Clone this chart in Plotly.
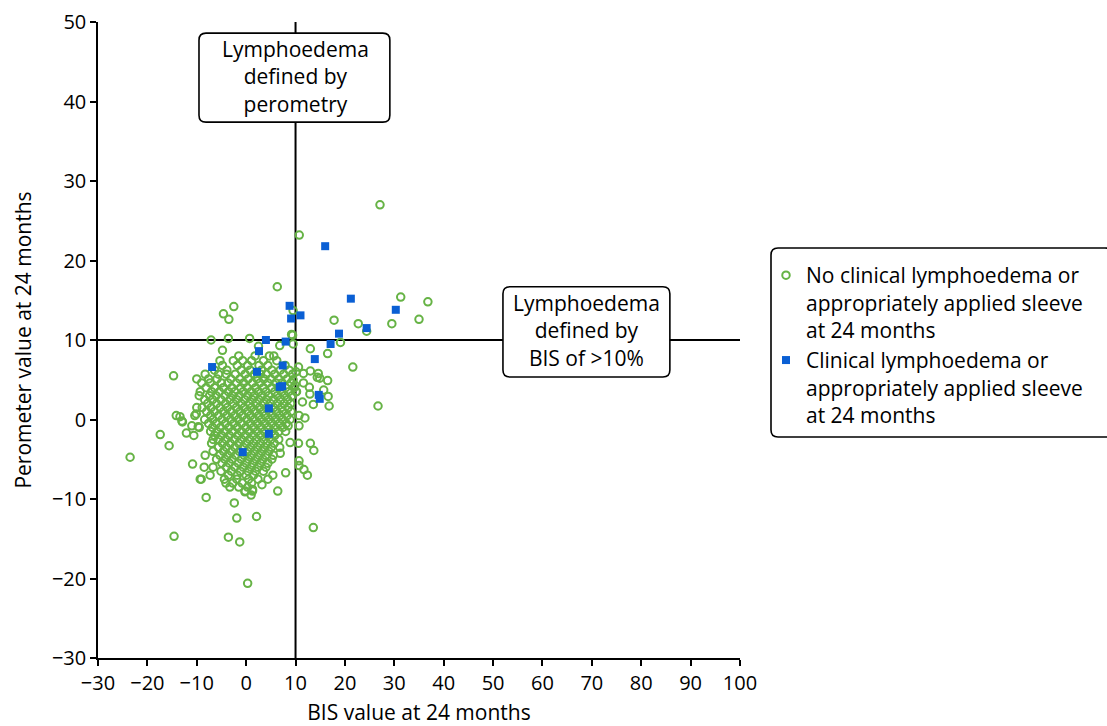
import plotly.graph_objects as go

# Outlying "no clinical lymphoedema" points (BIS %, perometer %)
no_lymph_outer = [
    (27.1, 27.0), (10.75, 23.2), (6.3, 16.7), (31.3, 15.4), (36.8, 14.8),
    (-2.5, 14.2), (-4.6, 13.3), (-3.5, 12.6), (9.5, 13.7), (17.8, 12.5),
    (22.7, 12.05), (29.5, 12.05), (35.0, 12.6), (24.4, 11.1), (9.2, 10.7),
    (-7.1, 10.0), (-3.6, 10.2), (0.7, 10.2), (9.5, 9.5), (6.8, 9.3),
    (19.1, 9.7), (2.5, 9.2), (13.0, 8.9), (16.5, 8.3), (4.7, 8.0),
    (-4.8, 8.7), (21.6, 6.6), (26.7, 1.7), (-14.7, 5.5), (10.6, 6.6),
    (10.1, 6.0), (11.6, 5.8), (13.0, 6.1), (14.6, 5.8), (14.9, 5.2),
    (16.5, 4.9), (14.4, 5.3), (12.8, 4.05), (12.9, 3.2), (15.7, 3.7),
    (16.6, 2.9), (16.8, 1.7), (13.6, 1.9), (11.4, 2.2), (11.9, 0.2),
    (10.7, 0.5), (10.7, -0.8), (10.6, -3.0), (13.0, -3.0), (13.7, -3.9),
    (10.7, -5.2), (10.7, -5.8), (11.7, -6.3), (12.4, -7.0), (8.0, -6.7),
    (6.4, -9.0), (3.2, -8.2), (13.6, -13.6), (-23.5, -4.75), (-17.4, -1.9),
    (-15.6, -3.3), (-14.15, 0.5), (-13.0, -0.2), (-12.1, -1.7), (-10.6, -2.0),
    (-11.0, -0.8), (-9.7, -0.9), (-10.1, 0.7), (-14.6, -14.7), (-8.1, -9.8),
    (-2.4, -10.5), (-1.9, -12.4), (2.1, -12.2), (-3.6, -14.8), (-1.3, -15.4),
    (0.3, -20.6), (-10.85, -5.6), (-9.1, -7.5), (1.0, -9.5), (1.3, -8.8),
    (-0.25, -9.1), (8.5, -0.8), (8.9, -2.9), (6.9, -4.25), (9.4, 10.6),
    (9.5, 5.0), (9.9, 4.3), (10.1, 3.5), (-13.4, 0.35), (-12.9, -0.3),
]

# Dense central cluster, listed row by row: (perometer %, [BIS % values])
no_lymph_core = [
    (8.0, [-1.5, 1.8, 5.6]),
    (7.4, [-5.3, -2.6, -0.7, 1.1, 3.5, 6.2]),
    (6.8, [-4.8, -1.8, 0.3, 2.6, 4.4, 7.9]),
    (6.2, [-6.4, -3.9, -1.0, 0.8, 3.1, 5.2, 6.9, 8.7]),
    (5.7, [-8.3, -5.6, -4.0, -2.2, -0.2, 1.7, 2.9, 4.1, 5.8, 7.6, 9.4]),
    (5.1, [-10.0, -7.6, -5.9, -3.1, -1.3, 0.4, 2.2, 3.6, 5.0, 6.6, 8.3]),
    (4.6, [-9.0, -7.3, -5.0, -3.7, -2.0, -0.5, 1.3, 2.8, 4.4, 6.0, 7.3, 9.1, 11.6]),
    (4.0, [-8.1, -6.4, -4.6, -2.9, -1.1, 0.2, 1.9, 3.5, 5.2, 6.6, 8.0, 9.7]),
    (3.5, [-9.3, -7.0, -5.4, -3.6, -2.3, -0.6, 1.0, 2.5, 4.0, 5.8, 7.2, 8.6, 10.2]),
    (3.0, [-9.5, -7.4, -6.1, -4.3, -2.8, -1.4, 0.3, 1.7, 3.2, 4.6, 6.3, 7.8, 9.3]),
    (2.5, [-8.4, -6.8, -5.1, -3.3, -1.9, -0.3, 1.2, 2.6, 4.1, 5.5, 7.0, 8.4]),
    (2.0, [-7.8, -6.0, -4.2, -2.6, -1.0, 0.6, 2.0, 3.5, 4.9, 6.3, 7.7, 9.0]),
    (1.5, [-10.0, -8.9, -7.1, -5.3, -3.8, -2.0, -0.4, 1.1, 2.7, 4.2, 5.6, 7.1, 8.5]),
    (1.0, [-8.0, -6.4, -4.6, -3.0, -1.3, 0.3, 1.8, 3.4, 4.8, 6.2, 7.5, 9.1]),
    (0.5, [-10.4, -7.2, -5.6, -3.9, -2.3, -0.7, 0.9, 2.5, 3.9, 5.3, 6.8, 8.3]),
    (0.0, [-8.4, -6.7, -4.9, -3.2, -1.6, 0.1, 1.6, 3.1, 4.6, 6.0, 7.4, 8.9]),
    (-0.5, [-7.6, -6.0, -4.2, -2.5, -0.9, 0.8, 2.3, 3.8, 5.2, 6.7, 8.1]),
    (-1.0, [-9.5, -6.8, -5.2, -3.5, -1.8, -0.1, 1.5, 3.0, 4.4, 5.9, 7.4]),
    (-1.5, [-7.2, -5.9, -4.3, -2.7, -1.0, 0.6, 2.2, 3.7, 5.2, 6.6, 8.0]),
    (-2.0, [-6.4, -5.0, -3.4, -1.7, -0.2, 1.4, 2.9, 4.4, 5.8]),
    (-2.5, [-6.7, -5.6, -4.1, -2.4, -0.9, 0.7, 2.1, 3.6, 5.0, 6.6]),
    (-3.0, [-7.0, -4.8, -3.2, -1.5, 0.0, 1.5, 2.9, 4.2, 5.7]),
    (-3.5, [-5.6, -4.0, -2.3, -0.6, 0.9, 2.3, 3.7, 5.1, 6.8]),
    (-4.0, [-6.7, -4.6, -3.0, -1.4, 0.3, 1.7, 3.2, 4.6]),
    (-4.5, [-8.3, -5.3, -3.7, -2.1, -0.4, 1.1, 2.6, 4.0, 5.5]),
    (-5.0, [-6.0, -4.3, -2.8, -1.0, 0.5, 2.0, 3.4, 5.2]),
    (-5.5, [-4.9, -3.4, -1.6, 0.0, 1.4, 2.9, 4.4]),
    (-6.0, [-8.5, -6.7, -4.0, -2.3, -0.6, 1.0, 2.4, 4.0]),
    (-6.5, [-5.1, -3.0, -1.2, 0.4, 1.9, 3.5]),
    (-7.0, [-7.3, -3.6, -1.8, 0.0, 1.5, 5.4]),
    (-7.5, [-9.3, -4.4, -1.9, 0.5, 2.4, 4.4]),
    (-8.0, [-4.1, -2.7, -0.8, 1.1]),
    (-8.5, [-3.3, -1.5, 0.3]),
    (-9.0, [-0.2, 1.3]),
]

# Clinical lymphoedema or appropriately applied sleeve
lymph_bis = [16.0, 21.2, 30.3, 8.8, 9.1, 11.0, 24.4, 18.8, 8.0, 17.1, 13.9, 7.4,
             6.8, 7.3, 14.7, 14.9, 4.0, 2.6, -6.9, 2.2, 4.6, 4.6, -0.7]
lymph_perometer = [21.8, 15.2, 13.8, 14.3, 12.7, 13.1, 11.5, 10.8, 9.8, 9.5, 7.6, 6.8,
                   4.1, 4.2, 3.1, 2.6, 10.0, 8.6, 6.6, 6.0, 1.4, -1.8, -4.1]

x_ticks = list(range(-30, 101, 10))
y_ticks = list(range(-30, 51, 10))
threshold = 10

GREEN = "#66b345"
BLUE = "#0a5fd4"
FONT = "Open Sans"
TEXT_SIZE = 21
TICK_SIZE = 20

no_lymph_bis = [p[0] for p in no_lymph_outer]
no_lymph_perometer = [p[1] for p in no_lymph_outer]
for yv, xs in no_lymph_core:
    for xv in xs:
        no_lymph_bis.append(xv)
        no_lymph_perometer.append(yv)

fig = go.Figure()
fig.add_trace(go.Scatter(
    x=no_lymph_bis, y=no_lymph_perometer, mode="markers",
    name="No clinical lymphoedema or<br>appropriately applied sleeve<br>at 24 months",
    marker=dict(symbol="circle-open", size=7.5, color=GREEN, line=dict(width=2, color=GREEN)),
))
fig.add_trace(go.Scatter(
    x=lymph_bis, y=lymph_perometer, mode="markers",
    name="Clinical lymphoedema or<br>appropriately applied sleeve<br>at 24 months",
    marker=dict(symbol="square", size=8, color=BLUE),
))

# plot-area geometry (pixels) used for rounded box corners
L, R, T, B = 98, 740, 22, 658
W, H = 1107, 726
px_per_x = (R - L) / (x_ticks[-1] - x_ticks[0])
px_per_y = (B - T) / (y_ticks[-1] - y_ticks[0])


def rounded_rect(x0, y0, x1, y1, rx, ry):
    return (f"M {x0 + rx},{y0} L {x1 - rx},{y0} Q {x1},{y0} {x1},{y0 + ry} "
            f"L {x1},{y1 - ry} Q {x1},{y1} {x1 - rx},{y1} "
            f"L {x0 + rx},{y1} Q {x0},{y1} {x0},{y1 - ry} "
            f"L {x0},{y0 + ry} Q {x0},{y0} {x0 + rx},{y0} Z")


r_px = 7
shapes = [
    dict(type="line", xref="x", yref="y", x0=threshold, x1=threshold,
         y0=y_ticks[0], y1=y_ticks[-1], line=dict(color="black", width=2), layer="below"),
    dict(type="line", xref="x", yref="y", x0=x_ticks[0], x1=x_ticks[-1],
         y0=threshold, y1=threshold, line=dict(color="black", width=2), layer="below"),
    dict(type="path", xref="x", yref="y",
         path=rounded_rect(-9.55, 37.4, 29.1, 48.6, r_px / px_per_x, r_px / px_per_y),
         fillcolor="white", line=dict(color="black", width=1.6), layer="above"),
    dict(type="path", xref="x", yref="y",
         path=rounded_rect(52.0, 5.35, 85.8, 16.7, r_px / px_per_x, r_px / px_per_y),
         fillcolor="white", line=dict(color="black", width=1.6), layer="above"),
    dict(type="path", xref="paper", yref="paper",
         path=rounded_rect((771 - L) / (R - L), (B - 437) / (B - T),
                           (1112 - L) / (R - L), (B - 248) / (B - T),
                           r_px / (R - L), r_px / (B - T)),
         fillcolor="white", line=dict(color="black", width=1.6), layer="above"),
]

annotations = [
    dict(x=threshold, y=43.2, xref="x", yref="y",
         text="Lymphoedema<br>defined by<br>perometry", showarrow=False,
         font=dict(size=TEXT_SIZE, color="black", family=FONT)),
    dict(x=68.9, y=11.25, xref="x", yref="y",
         text="Lymphoedema<br>defined by<br>BIS of >10%", showarrow=False,
         font=dict(size=TEXT_SIZE, color="black", family=FONT)),
]

axis_common = dict(
    showline=True, linecolor="black", linewidth=1.5, ticks="outside", ticklen=6,
    tickwidth=1.5, tickcolor="black", showgrid=False, zeroline=False,
    tickfont=dict(size=TICK_SIZE, color="black", family=FONT), mirror=False,
)

fig.update_layout(
    width=W, height=H,
    margin=dict(l=L, r=W - R, t=T, b=H - B, autoexpand=False),
    plot_bgcolor="white", paper_bgcolor="white",
    font=dict(family=FONT, color="black", size=TEXT_SIZE),
    xaxis=dict(range=[x_ticks[0], x_ticks[-1]], tickvals=x_ticks,
               title=dict(text="BIS value at 24 months", font=dict(size=TEXT_SIZE)), **axis_common),
    yaxis=dict(range=[y_ticks[0], y_ticks[-1]], tickvals=y_ticks,
               title=dict(text="Perometer value at 24 months", font=dict(size=TEXT_SIZE)), **axis_common),
    shapes=shapes, annotations=annotations,
    showlegend=True,
    legend=dict(x=(766 - L) / (R - L), xanchor="left", y=(B - 255) / (B - T), yanchor="top",
                valign="top", bgcolor="rgba(0,0,0,0)", borderwidth=0,
                font=dict(size=TEXT_SIZE, color="black", family=FONT)),
)

fig.write_html("out.html")
